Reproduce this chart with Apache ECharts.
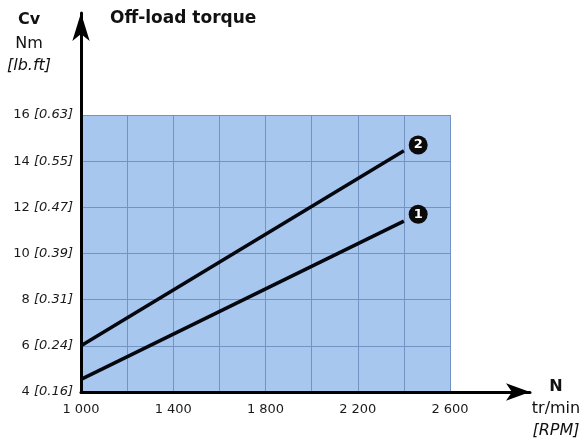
<!DOCTYPE html>
<html>
<head>
<meta charset="utf-8">
<script src="https://cdn.jsdelivr.net/npm/echarts@6/dist/echarts.min.js"></script>
<style>
  html, body { margin: 0; padding: 0; background: #ffffff; }
  #chart { width: 584px; height: 446px; }
</style>
</head>
<body>
<div id="chart"></div>
<script>
// Speed axis (tr/min) and torque axis (Nm with lb.ft in brackets)
const speedMin = 1000;
const speedMax = 2600;
const speedStep = 200;
const torqueMin = 4;
const torqueMax = 16;
const torqueStep = 2;
const lbftLabels = { 4: '0.16', 6: '0.24', 8: '0.31', 10: '0.39', 12: '0.47', 14: '0.55', 16: '0.63' };

// Off-load torque curves: [speed, torque]
const curve1 = [[1000, 4.55], [2400, 11.4]];
const curve2 = [[1000, 6.0], [2400, 14.45]];
// Numbered badges placed at the end of each curve
const badges = [
  { name: '1', value: [2462, 11.7] },
  { name: '2', value: [2462, 14.7] }
];

const FONT = 'DejaVu Sans';
const TICK_SIZE = 13;
const chart = echarts.init(document.getElementById('chart'), null, { renderer: 'canvas' });

function fmtSpeed(v) {
  if ((v - speedMin) % 400 !== 0) return '';
  const s = String(v);
  return s.length > 3 ? s.slice(0, s.length - 3) + ' ' + s.slice(-3) : s;
}

chart.setOption({
  animation: false,
  backgroundColor: '#ffffff',
  grid: [
    { left: 81, right: 134, top: 115, bottom: 54, show: true, backgroundColor: '#a8c7ee', borderWidth: 0 },
    { left: 81, right: 54, top: 13, bottom: 54, show: false }
  ],
  xAxis: [
    {
      type: 'value', gridIndex: 0, min: speedMin, max: speedMax, interval: speedStep,
      axisLine: { show: false },
      axisTick: { show: false },
      splitLine: { show: true, lineStyle: { color: '#7393c3', width: 1 } },
      axisLabel: {
        margin: 11, color: '#1a1a1a', fontFamily: FONT, fontSize: TICK_SIZE,
        formatter: fmtSpeed, showMinLabel: true, showMaxLabel: true
      }
    },
    {
      type: 'value', gridIndex: 1, min: 0, max: 1,
      axisLine: { show: true, onZero: false, symbol: ['none', 'arrow'], symbolSize: [13, 24],
                  lineStyle: { color: '#000000', width: 3 } },
      axisTick: { show: false }, axisLabel: { show: false }, splitLine: { show: false }
    }
  ],
  yAxis: [
    {
      type: 'value', gridIndex: 0, min: torqueMin, max: torqueMax, interval: torqueStep,
      axisLine: { show: false },
      axisTick: { show: false },
      splitLine: { show: true, lineStyle: { color: '#7393c3', width: 1 } },
      axisLabel: {
        margin: 8, fontFamily: FONT, fontSize: TICK_SIZE, color: '#1a1a1a',
        formatter: v => '{n|' + v + ' }{b|[' + lbftLabels[v] + ']}',
        rich: {
          n: { fontFamily: FONT, fontSize: TICK_SIZE, color: '#1a1a1a' },
          b: { fontFamily: FONT, fontSize: TICK_SIZE, color: '#1a1a1a', fontStyle: 'italic' }
        }
      }
    },
    {
      type: 'value', gridIndex: 1, min: 0, max: 1,
      axisLine: { show: true, onZero: false, symbol: ['none', 'arrow'], symbolSize: [13, 28],
                  lineStyle: { color: '#000000', width: 3 } },
      axisTick: { show: false }, axisLabel: { show: false }, splitLine: { show: false }
    }
  ],
  series: [
    {
      type: 'line', xAxisIndex: 0, yAxisIndex: 0, data: curve1, showSymbol: false,
      lineStyle: { color: '#05070f', width: 3.5 }
    },
    {
      type: 'line', xAxisIndex: 0, yAxisIndex: 0, data: curve2, showSymbol: false,
      lineStyle: { color: '#05070f', width: 3.5 }
    },
    {
      type: 'scatter', xAxisIndex: 0, yAxisIndex: 0, data: badges,
      symbol: 'circle', symbolSize: 19,
      itemStyle: { color: '#0a0a0a', opacity: 1 },
      label: {
        show: true, position: 'inside', formatter: p => p.name,
        color: '#ffffff', fontFamily: FONT, fontWeight: 'bold', fontSize: 13
      },
      z: 5
    }
  ],
  graphic: [
    { type: 'text', x: 29, y: 20, style: { text: 'Cv', fontFamily: FONT, fontWeight: 'bold', fontSize: 16, fill: '#111', align: 'center', verticalAlign: 'middle' } },
    { type: 'text', x: 29, y: 44, style: { text: 'Nm', fontFamily: FONT, fontSize: 16, fill: '#111', align: 'center', verticalAlign: 'middle' } },
    { type: 'text', x: 29, y: 66, style: { text: '[lb.ft]', fontFamily: FONT, fontStyle: 'italic', fontSize: 16, fill: '#111', align: 'center', verticalAlign: 'middle' } },
    { type: 'text', x: 110, y: 19, style: { text: 'Off-load torque', fontFamily: FONT, fontWeight: 'bold', fontSize: 17, fill: '#111', align: 'left', verticalAlign: 'middle' } },
    { type: 'text', x: 556, y: 387, style: { text: 'N', fontFamily: FONT, fontWeight: 'bold', fontSize: 16, fill: '#111', align: 'center', verticalAlign: 'middle' } },
    { type: 'text', x: 556, y: 409, style: { text: 'tr/min', fontFamily: FONT, fontSize: 16, fill: '#111', align: 'center', verticalAlign: 'middle' } },
    { type: 'text', x: 556, y: 431, style: { text: '[RPM]', fontFamily: FONT, fontStyle: 'italic', fontSize: 16, fill: '#111', align: 'center', verticalAlign: 'middle' } }
  ]
});
</script>
</body>
</html>
